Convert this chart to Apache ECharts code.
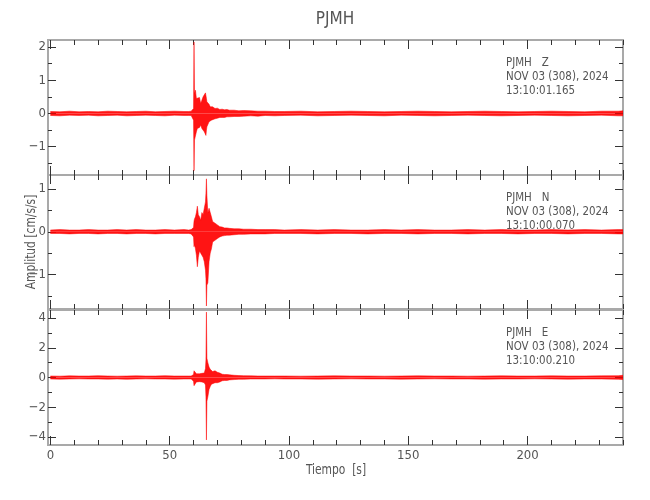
<!DOCTYPE html>
<html>
<head>
<meta charset="utf-8">
<title>PJMH</title>
<script src="https://cdn.jsdelivr.net/npm/echarts@6/dist/echarts.min.js"></script>
<style>
    html, body { margin: 0; padding: 0; background: #fff; }
    #chart { width: 650px; height: 500px; }
</style>
</head>
<body>
<div id="chart"></div>
<script>
// tiempos (s) compartidos por las tres componentes
const tiempos = [
    0, 4, 8, 12, 16, 20, 24, 28, 32, 36, 40, 44, 48, 52, 56,
    58, 59, 59.6, 60, 60.2, 60.4, 60.8, 61.2, 61.6, 62, 62.5, 63, 63.5, 64, 64.5,
    65, 65.2, 65.4, 65.6, 66, 66.5, 67, 67.5, 68, 69, 70, 71, 72, 73, 74, 75,
    77, 79, 81, 84, 87, 90, 94,
    98, 105, 112, 119, 126, 133, 140, 147, 154, 161, 168,
    175, 182, 189, 196, 203, 210, 217, 224, 231, 238, 240
];

// envolvente Z
const zSup = [
    0.06, 0.05, 0.07, 0.05, 0.06, 0.05, 0.07, 0.06, 0.05, 0.06, 0.07, 0.05, 0.06, 0.07, 0.06,
    0.06, 0.07, 0.08, 0.15, 2.15, 0.6, 0.7, 0.45, 0.5, 0.4, 0.48, 0.3, 0.4, 0.5, 0.45,
    0.62, 0.63, 0.45, 0.35, 0.3, 0.28, 0.2, 0.18, 0.2, 0.15, 0.16, 0.12, 0.13, 0.11, 0.12, 0.1,
    0.1, 0.08, 0.09, 0.08, 0.07, 0.07, 0.06,
    0.06, 0.07, 0.05, 0.06, 0.07, 0.06, 0.05, 0.06, 0.07, 0.06, 0.05,
    0.06, 0.07, 0.06, 0.05, 0.06, 0.07, 0.06, 0.05, 0.07, 0.07, 0.08
];
const zInf = [
    -0.06, -0.07, -0.05, -0.06, -0.05, -0.07, -0.06, -0.05, -0.07, -0.06, -0.05, -0.06, -0.07, -0.05, -0.06,
    -0.06, -0.06, -0.07, -0.2, -1.72, -0.8, -0.78, -0.55, -0.45, -0.5, -0.42, -0.35, -0.45, -0.5, -0.55,
    -0.6, -0.66, -0.5, -0.4, -0.35, -0.25, -0.25, -0.2, -0.18, -0.16, -0.14, -0.12, -0.12, -0.12, -0.1, -0.1,
    -0.09, -0.09, -0.08, -0.07, -0.08, -0.06, -0.07,
    -0.06, -0.05, -0.07, -0.06, -0.05, -0.06, -0.07, -0.05, -0.06, -0.07, -0.06,
    -0.05, -0.06, -0.07, -0.06, -0.05, -0.06, -0.07, -0.06, -0.05, -0.07, -0.07
];

// envolvente N
const nSup = [
    0.04, 0.05, 0.04, 0.04, 0.05, 0.04, 0.04, 0.05, 0.04, 0.05, 0.04, 0.04, 0.05, 0.04, 0.05,
    0.04, 0.05, 0.05, 0.1, 0.25, 0.3, 0.35, 0.45, 0.6, 0.4, 0.35, 0.27, 0.45, 0.4, 0.55,
    0.7, 0.9, 1.24, 0.85, 0.44, 0.55, 0.45, 0.35, 0.24, 0.2, 0.16, 0.12, 0.11, 0.09, 0.09, 0.08,
    0.07, 0.07, 0.06, 0.06, 0.05, 0.05, 0.05,
    0.04, 0.05, 0.04, 0.05, 0.04, 0.04, 0.05, 0.04, 0.05, 0.04, 0.04,
    0.05, 0.04, 0.05, 0.04, 0.04, 0.05, 0.04, 0.05, 0.04, 0.05, 0.05
];
const nInf = [
    -0.04, -0.04, -0.05, -0.04, -0.04, -0.05, -0.04, -0.04, -0.05, -0.04, -0.04, -0.05, -0.04, -0.04, -0.04,
    -0.04, -0.05, -0.05, -0.12, -0.35, -0.3, -0.4, -0.55, -0.82, -0.6, -0.45, -0.46, -0.55, -0.6, -0.7,
    -0.9, -1.1, -1.74, -1.25, -1.2, -0.7, -0.5, -0.4, -0.24, -0.2, -0.16, -0.12, -0.1, -0.09, -0.08, -0.08,
    -0.07, -0.06, -0.06, -0.05, -0.05, -0.05, -0.04,
    -0.04, -0.04, -0.05, -0.04, -0.04, -0.05, -0.04, -0.04, -0.05, -0.04, -0.04,
    -0.05, -0.04, -0.04, -0.05, -0.04, -0.04, -0.05, -0.04, -0.04, -0.05, -0.05
];

// envolvente E
const eSup = [
    0.1, 0.09, 0.11, 0.1, 0.1, 0.12, 0.1, 0.09, 0.1, 0.11, 0.1, 0.1, 0.12, 0.1, 0.1,
    0.1, 0.1, 0.12, 0.2, 0.45, 0.35, 0.47, 0.25, 0.35, 0.3, 0.25, 0.3, 0.28, 0.35, 0.3,
    0.6, 1.2, 4.4, 1.3, 1.0, 0.7, 0.55, 0.5, 0.4, 0.45, 0.35, 0.3, 0.22, 0.2, 0.2, 0.18,
    0.15, 0.13, 0.12, 0.11, 0.1, 0.1, 0.1,
    0.1, 0.09, 0.1, 0.11, 0.1, 0.1, 0.09, 0.1, 0.11, 0.1, 0.1,
    0.09, 0.1, 0.11, 0.1, 0.1, 0.11, 0.1, 0.1, 0.11, 0.12, 0.15
];
const eInf = [
    -0.1, -0.11, -0.1, -0.09, -0.1, -0.1, -0.11, -0.1, -0.12, -0.1, -0.09, -0.1, -0.1, -0.11, -0.1,
    -0.1, -0.1, -0.12, -0.25, -0.55, -0.45, -0.5, -0.3, -0.3, -0.35, -0.28, -0.25, -0.3, -0.4, -0.35,
    -0.5, -1.3, -4.2, -1.6, -1.3, -0.8, -0.6, -0.45, -0.4, -0.35, -0.35, -0.3, -0.22, -0.2, -0.2, -0.16,
    -0.14, -0.12, -0.12, -0.1, -0.1, -0.1, -0.09,
    -0.1, -0.1, -0.11, -0.1, -0.09, -0.1, -0.1, -0.11, -0.1, -0.09, -0.1,
    -0.1, -0.11, -0.1, -0.1, -0.09, -0.1, -0.11, -0.1, -0.1, -0.12, -0.14
];

// marcas de los ejes
const xMayores = [0, 50, 100, 150, 200];
const xMenores = [10, 20, 30, 40, 60, 70, 80, 90, 110, 120, 130, 140, 160, 170, 180, 190, 210, 220, 230, 240];
const zMayores = [-1, 0, 1, 2];
const zMenores = [-1.5, -0.5, 0.5, 1.5];
const nMayores = [-1, 0, 1];
const nMenores = [-1.5, -0.5, 0.5];
const eMayores = [-4, -2, 0, 2, 4];
const eMenores = [-3, -1, 1, 3];

// textos de cada componente
const encabezados = [
    ['PJMH   Z', 'NOV 03 (308), 2024', '13:10:01.165'],
    ['PJMH   N', 'NOV 03 (308), 2024', '13:10:00.070'],
    ['PJMH   E', 'NOV 03 (308), 2024', '13:10:00.210'],
];

const FUENTE = "'DejaVu Sans Condensed', 'DejaVu Sans', sans-serif";
const GRIS = '#555';
const ROJO = '#ff0000';

const paneles = [
    { top: 40, height: 135, min: -1.85, max: 2.21, mayores: zMayores, menores: zMenores, sup: zSup, inf: zInf },
    { top: 175, height: 134, min: -1.81, max: 1.33, mayores: nMayores, menores: nMenores, sup: nSup, inf: nInf },
    { top: 310, height: 135, min: -4.54, max: 4.54, mayores: eMayores, menores: eMenores, sup: eSup, inf: eInf },
];

const chart = echarts.init(document.getElementById('chart'), null, { renderer: 'canvas' });

const grid = [];
const xAxis = [];
const yAxis = [];
const series = [];
const graphic = [];

function eje(extra) {
    return Object.assign({
        type: 'value',
        axisLine: { show: false, onZero: false },
        splitLine: { show: false },
        axisLabel: { show: false },
    }, extra);
}

function marcas(valores, largo) {
    return {
        show: true,
        inside: true,
        length: largo,
        customValues: valores,
        lineStyle: { color: '#333', width: 1 },
    };
}

paneles.forEach((p, g) => {
    grid.push({
        left: 48,
        width: 575,
        top: p.top,
        height: p.height,
        show: true,
        borderColor: '#a9a9a9',
        borderWidth: 2,
        backgroundColor: 'transparent',
    });

    // ejes x: abajo (mayor, menor) y arriba (mayor, menor)
    ['bottom', 'top'].forEach((pos) => {
        xAxis.push(eje({
            gridIndex: g, position: pos, min: -1, max: 240,
            axisTick: marcas(xMayores, 9),
            axisLabel: (pos === 'bottom' && g === 2) ? {
                show: true,
                customValues: xMayores,
                color: GRIS,
                fontFamily: FUENTE,
                fontSize: 13,
                margin: 4,
            } : { show: false },
        }));
        xAxis.push(eje({
            gridIndex: g, position: pos, min: -1, max: 240,
            axisTick: marcas(xMenores, 5),
        }));
    });

    // ejes y: izquierda (mayor, menor) y derecha (mayor, menor)
    ['left', 'right'].forEach((pos) => {
        yAxis.push(eje({
            gridIndex: g, position: pos, min: p.min, max: p.max,
            axisTick: marcas(p.mayores, 8),
            axisLabel: pos === 'left' ? {
                show: true,
                customValues: p.mayores,
                color: GRIS,
                fontFamily: FUENTE,
                fontSize: 13,
                margin: 2,
                formatter: (v) => String(v).replace('-', '\u2212'),
            } : { show: false },
        }));
        yAxis.push(eje({
            gridIndex: g, position: pos, min: p.min, max: p.max,
            axisTick: marcas(p.menores, 4),
        }));
    });

    [p.sup, p.inf].forEach((valores) => {
        series.push({
            type: 'line',
            xAxisIndex: g * 4,
            yAxisIndex: g * 4,
            data: tiempos.map((t, i) => [t, valores[i]]),
            showSymbol: false,
            symbol: 'none',
            silent: true,
            lineStyle: { color: ROJO, width: 0.5 },
            areaStyle: { color: ROJO, opacity: 0.92 },
            z: 1,
        });
    });

    encabezados[g].forEach((linea, k) => {
        graphic.push({
            type: 'text',
            x: 506,
            y: p.top + 23 + k * 14,
            scaleX: 0.88,
            style: {
                text: linea,
                fill: GRIS,
                font: '13px ' + FUENTE,
                verticalAlign: 'middle',
            },
        });
    });
});

graphic.push(
    {
        type: 'text',
        x: 335,
        y: 20,
        style: {
            text: 'PJMH', fill: GRIS, font: '17px ' + FUENTE,
            align: 'center', verticalAlign: 'middle',
        },
    },
    {
        type: 'text',
        x: 336,
        y: 470,
        scaleX: 0.85,
        style: {
            text: 'Tiempo  [s]', fill: GRIS, font: '14px ' + FUENTE,
            align: 'center', verticalAlign: 'middle',
        },
    },
    {
        type: 'text',
        x: 31,
        y: 242,
        rotation: Math.PI / 2,
        scaleX: 0.85,
        style: {
            text: 'Amplitud [cm/s/s]', fill: GRIS, font: '14px ' + FUENTE,
            align: 'center', verticalAlign: 'middle',
        },
    }
);

chart.setOption({
    animation: false,
    backgroundColor: '#fff',
    grid,
    xAxis,
    yAxis,
    series,
    graphic,
});
</script>
</body>
</html>
